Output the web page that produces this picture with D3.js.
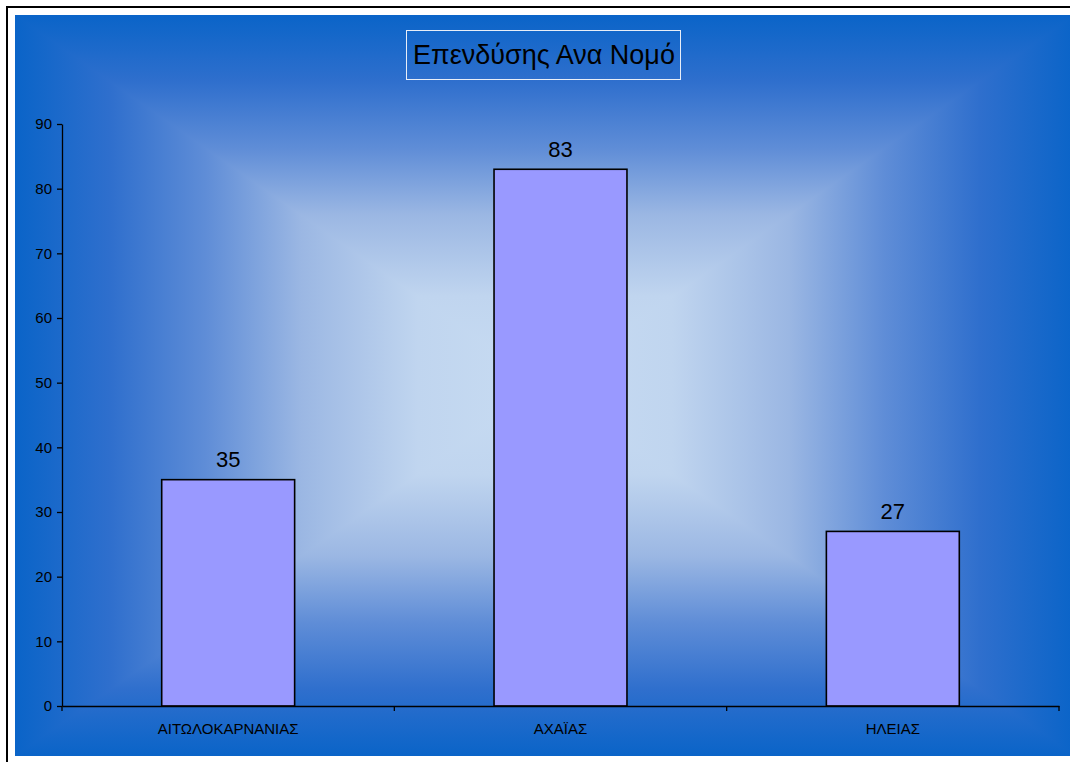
<!DOCTYPE html>
<html lang="el">
<head>
<meta charset="UTF-8">
<title>Επενδύσης Ανα Νομό</title>
<style>
  body, html { margin: 0; padding: 0; background: #fff; }
  svg { display: block; font-family: "Liberation Sans", Arial, sans-serif; }
</style>
</head>
<body>
<svg id="chart" width="1070" height="762"></svg>
<script src="https://cdn.jsdelivr.net/npm/d3@7"></script>
<script>
// data
var categories = ["ΑΙΤΩΛΟΚΑΡΝΑΝΙΑΣ", "ΑΧΑΪΑΣ", "ΗΛΕΙΑΣ"];
var values = [35, 83, 27];
var yTicks = [0, 10, 20, 30, 40, 50, 60, 70, 80, 90];
var title = "Επενδύσης Ανα Νομό";

var svg = d3.select("#chart");

// outer frame
svg.append("rect")
  .attr("x", 7).attr("y", 7).attr("width", 1090).attr("height", 780)
  .attr("fill", "#fff").attr("stroke", "#000").attr("stroke-width", 2);

// "from center" rectangular gradient: four triangles, each a linear ramp
var bx0 = 15, by0 = 15, bx1 = 1075, by1 = 756;
var cx = (bx0 + bx1) / 2, cy = (by0 + by1) / 2;
var stops = [
  [0, "#0a64c8"], [0.18, "#2f6fcd"], [0.36, "#5f8dd7"],
  [0.54, "#9bb7e3"], [0.76, "#c0d5ef"], [1, "#c8dcf2"]
];
var defs = svg.append("defs");
function grad(id, x1, y1, x2, y2) {
  var g = defs.append("linearGradient").attr("id", id)
    .attr("gradientUnits", "userSpaceOnUse")
    .attr("x1", x1).attr("y1", y1).attr("x2", x2).attr("y2", y2);
  stops.forEach(function (s) {
    g.append("stop").attr("offset", s[0]).attr("stop-color", s[1]);
  });
}
grad("gTop", 0, by0, 0, cy);
grad("gBot", 0, by1, 0, cy);
grad("gLeft", bx0, 0, cx, 0);
grad("gRight", bx1, 0, cx, 0);

var tris = [
  ["gTop", [[bx0, by0], [bx1, by0], [cx, cy]]],
  ["gBot", [[bx0, by1], [bx1, by1], [cx, cy]]],
  ["gLeft", [[bx0, by0], [bx0, by1], [cx, cy]]],
  ["gRight", [[bx1, by0], [bx1, by1], [cx, cy]]]
];
svg.append("g").selectAll("path").data(tris).join("path")
  .attr("d", function (d) { return "M" + d[1].join("L") + "Z"; })
  .attr("fill", function (d) { return "url(#" + d[0] + ")"; })
  .attr("shape-rendering", "crispEdges");

// title box
svg.append("rect")
  .attr("x", 406.5).attr("y", 30.5).attr("width", 274).attr("height", 49)
  .attr("fill", "none").attr("stroke", "#e8eef8").attr("stroke-width", 1);
svg.append("text")
  .attr("x", 544).attr("y", 64)
  .attr("text-anchor", "middle")
  .style("font-size", "27px")
  .attr("fill", "#000")
  .text(title);

// plot
var pLeft = 62, pRight = 1059, pTop = 124, pBottom = 706;

var x = d3.scaleBand().domain(categories).range([pLeft, pRight]).padding(0);
var y = d3.scaleLinear().domain([0, 90]).range([pBottom, pTop]);
var barW = x.bandwidth() * 0.4;

svg.append("g").selectAll("rect").data(values).join("rect")
  .attr("x", function (d, i) { return x(categories[i]) + (x.bandwidth() - barW) / 2; })
  .attr("y", function (d) { return y(d); })
  .attr("width", barW)
  .attr("height", function (d) { return y(0) - y(d); })
  .attr("fill", "#9999ff")
  .attr("stroke", "#000")
  .attr("stroke-width", 1.6);

svg.append("g").selectAll("text").data(values).join("text")
  .attr("x", function (d, i) { return x(categories[i]) + x.bandwidth() / 2; })
  .attr("y", function (d) { return y(d) - 12.5; })
  .attr("text-anchor", "middle")
  .style("font-size", "22px")
  .attr("fill", "#000")
  .text(function (d) { return d; });

// y axis
var yAxis = svg.append("g")
  .attr("transform", "translate(" + pLeft + ",0)")
  .call(d3.axisLeft(y).tickValues(yTicks).tickSize(5).tickSizeOuter(0).tickPadding(5));
yAxis.selectAll("text")
  .style("font-size", "15px").style("font-family", "Liberation Sans, Arial, sans-serif")
  .attr("fill", "#000");
yAxis.selectAll("line, path").attr("stroke", "#000").attr("stroke-width", 1.3);

// x axis
var xAxis = svg.append("g")
  .attr("transform", "translate(0," + pBottom + ")")
  .call(d3.axisBottom(x).tickSize(0).tickSizeOuter(0).tickPadding(17));
xAxis.selectAll("text")
  .style("font-size", "15px").style("font-family", "Liberation Sans, Arial, sans-serif")
  .attr("fill", "#000");
xAxis.select("path").attr("stroke", "#000").attr("stroke-width", 1.3);

// ticks between categories
var edges = categories.map(function (c) { return x(c); }).concat([x(categories[categories.length - 1]) + x.bandwidth()]);
xAxis.selectAll("line.edge").data(edges).join("line")
  .attr("class", "edge")
  .attr("x1", function (d) { return d; }).attr("x2", function (d) { return d; })
  .attr("y1", 0).attr("y2", 5)
  .attr("stroke", "#000").attr("stroke-width", 1.3);
</script>
</body>
</html>
